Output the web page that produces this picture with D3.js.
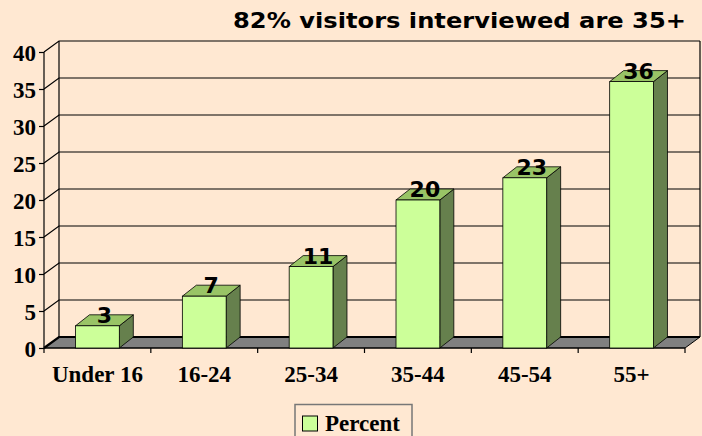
<!DOCTYPE html>
<html lang="en">
<head>
<meta charset="UTF-8">
<title>Visitor ages</title>
<style>
  body { margin: 0; background: #FFE8D2; }
  svg { display: block; }
</style>
</head>
<body>
<div id="chart"></div>
<script src="https://cdnjs.cloudflare.com/ajax/libs/d3/7.8.5/d3.min.js"></script>
<script>
const categories = ["Under 16", "16-24", "25-34", "35-44", "45-54", "55+"];
const percent = [3, 7, 11, 20, 23, 36];
const yTicks = [0, 5, 10, 15, 20, 25, 30, 35, 40];
const seriesName = "Percent";
const title = "82% visitors interviewed are 35+";

const W = 702, H = 436;
const dx = 15, dy = -11;     // wall depth
const bx = 14, by = -11;     // bar depth

const svg = d3.select("#chart").append("svg")
  .attr("width", W).attr("height", H);

svg.append("rect").attr("width", W).attr("height", H).attr("fill", "#FFE8D2");

const x = d3.scaleBand()
  .domain(categories)
  .range([44, 685])
  .paddingInner(0.59)
  .paddingOuter(0.295);

const y = d3.scaleLinear().domain([0, 40]).range([348, 52]);

const x0 = 44, x1 = 685;
const serif = "'Liberation Serif', 'Times New Roman', serif";
const sans = "'DejaVu Sans', Verdana, sans-serif";

// floor
svg.append("polygon")
  .attr("points", [[x0, y(0)], [x1, y(0)], [x1 + dx, y(0) + dy], [x0 + dx, y(0) + dy]].join(" "))
  .attr("fill", "#808080").attr("stroke", "#000").attr("stroke-width", 1);

// gridlines: side wall diagonal + back wall horizontal
const grid = svg.append("g").attr("stroke", "#000").attr("stroke-width", 1.2).attr("fill", "none");
yTicks.forEach(t => {
  grid.append("path")
    .attr("d", `M${x0},${y(t)} L${x0 + dx},${y(t) + dy} L${x1 + dx},${y(t) + dy}`)
    .attr("stroke-width", t === 0 ? 2.2 : 1.2);
});
// walls
grid.append("line").attr("x1", x0 + dx).attr("x2", x0 + dx)
  .attr("y1", y(40) + dy).attr("y2", y(0) + dy);
grid.append("line").attr("x1", x0).attr("x2", x0)
  .attr("y1", y(40)).attr("y2", y(0));
grid.append("line").attr("x1", x1 + dx).attr("x2", x1 + dx)
  .attr("y1", y(40) + dy).attr("y2", y(0) + dy);

// y axis (ticks on the front edge)
const yAxis = svg.append("g")
  .attr("transform", `translate(${x0},0)`)
  .call(d3.axisLeft(y).tickValues(yTicks).tickSize(5).tickPadding(3));
yAxis.select(".domain").remove();
yAxis.selectAll("line").attr("stroke", "#000").attr("stroke-width", 1.2);
yAxis.selectAll("text")
  .attr("font-family", serif)
  .attr("font-weight", "bold").attr("font-size", 23).attr("fill", "#000")
  .attr("dy", "0.35em");

// x axis front edge and ticks at category boundaries
svg.append("line").attr("x1", x0).attr("x2", x1).attr("y1", y(0)).attr("y2", y(0))
  .attr("stroke", "#000").attr("stroke-width", 1.2);
const step = x.step();
svg.append("g").selectAll("line")
  .data(d3.range(categories.length + 1))
  .join("line")
  .attr("x1", i => x0 + i * step).attr("x2", i => x0 + i * step)
  .attr("y1", y(0)).attr("y2", y(0) + 5)
  .attr("stroke", "#000").attr("stroke-width", 1.2);

svg.append("g").selectAll("text")
  .data(categories)
  .join("text")
  .attr("x", d => x(d) + x.bandwidth() / 2)
  .attr("y", 382)
  .attr("text-anchor", "middle")
  .attr("font-family", serif)
  .attr("font-weight", "bold").attr("font-size", 23)
  .text(d => d);

// bars
const data = categories.map((c, i) => ({ cat: c, v: percent[i] }));
const bars = svg.append("g").selectAll("g").data(data).join("g");
const bw = x.bandwidth();

bars.append("polygon") // side
  .attr("points", d => {
    const xr = x(d.cat) + bw;
    return [[xr, y(d.v)], [xr + bx, y(d.v) + by], [xr + bx, y(0) + by], [xr, y(0)]].join(" ");
  })
  .attr("fill", "#66804D").attr("stroke", "#000").attr("stroke-width", 0.8);

bars.append("polygon") // top
  .attr("points", d => {
    const xl = x(d.cat);
    return [[xl, y(d.v)], [xl + bx, y(d.v) + by], [xl + bw + bx, y(d.v) + by], [xl + bw, y(d.v)]].join(" ");
  })
  .attr("fill", "#99C466").attr("stroke", "#000").attr("stroke-width", 0.8);

bars.append("rect") // front
  .attr("x", d => x(d.cat))
  .attr("y", d => y(d.v))
  .attr("width", bw)
  .attr("height", d => y(0) - y(d.v))
  .attr("fill", "#CCFF99").attr("stroke", "#000").attr("stroke-width", 0.8);

bars.append("text")
  .attr("x", d => x(d.cat) + bw / 2 + 7)
  .attr("y", d => y(d.v) - 3)
  .attr("text-anchor", "middle")
  .attr("font-family", sans)
  .attr("font-weight", "bold").attr("font-size", 22)
  .text(d => d.v);

// title
svg.append("text")
  .attr("x", 233).attr("y", 28)
  .attr("font-family", sans)
  .attr("font-weight", "bold").attr("font-size", 20.5)
  .attr("textLength", 453).attr("lengthAdjust", "spacingAndGlyphs")
  .text(title);

// legend
const lg = svg.append("g");
lg.append("rect").attr("x", 295).attr("y", 404.5).attr("width", 117).attr("height", 40)
  .attr("fill", "none").attr("stroke", "#777").attr("stroke-width", 1.5);
lg.append("rect").attr("x", 302.5).attr("y", 416).attr("width", 15).attr("height", 15)
  .attr("fill", "#CCFF99").attr("stroke", "#000").attr("stroke-width", 1);
lg.append("text").attr("x", 325).attr("y", 431)
  .attr("font-family", serif)
  .attr("font-weight", "bold").attr("font-size", 23)
  .text(seriesName);
</script>
</body>
</html>
